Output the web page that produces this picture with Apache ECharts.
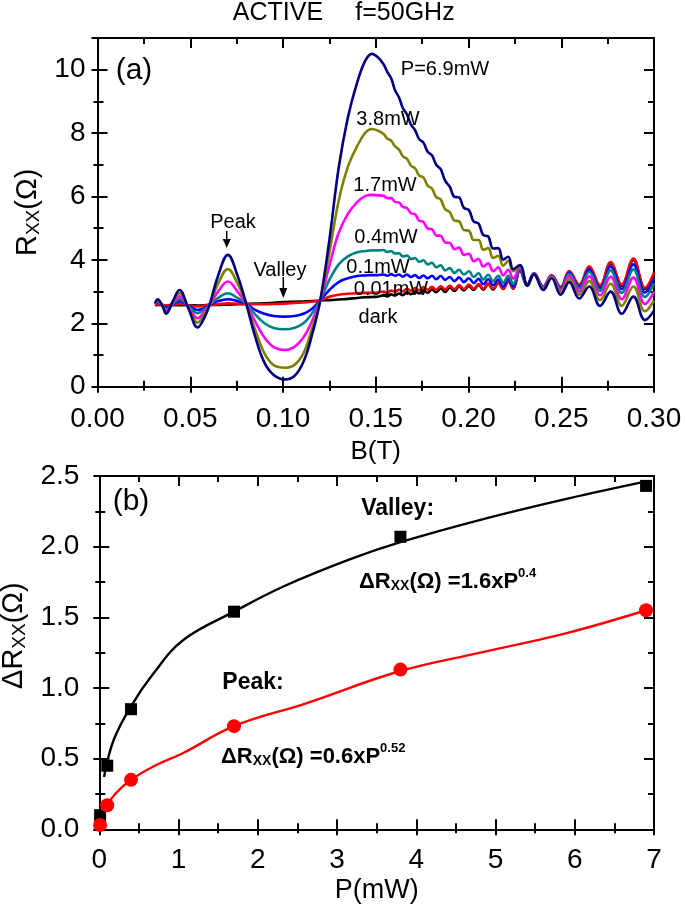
<!DOCTYPE html>
<html><head><meta charset="utf-8">
<script src="https://cdn.jsdelivr.net/npm/echarts@6/dist/echarts.min.js"></script>
<style>html,body{margin:0;padding:0;background:#fff}#c{width:685px;height:909px}</style>
</head><body><div id="c"></div>
<script>
// ---------- panel (a): R_xx vs B ----------
const B = [
0.031, 0.0325, 0.035, 0.037, 0.0405, 0.0442, 0.049, 0.054, 0.0575, 0.0604,
0.065, 0.0703, 0.0755, 0.0802, 0.085, 0.09, 0.095, 0.1009, 0.106, 0.111,
0.1155, 0.12, 0.125, 0.13, 0.135, 0.14, 0.1445, 0.148, 0.151,
0.1542, 0.1562, 0.1583, 0.1604, 0.1625, 0.1646, 0.1668, 0.169, 0.1712, 0.1734,
0.1757, 0.178, 0.1803, 0.1826, 0.185, 0.1874, 0.1899, 0.1924, 0.1949, 0.1975,
0.2002, 0.2028, 0.2054, 0.208, 0.2106, 0.2133, 0.216, 0.2187, 0.2214, 0.2241,
0.2277, 0.2317, 0.2353, 0.2403, 0.2448, 0.2497, 0.2543, 0.2597, 0.2651, 0.2709,
0.2766, 0.2826, 0.2889, 0.2951, 0.30];

const R_69mW = [
2.63, 2.76, 2.55, 2.30, 2.68, 3.05, 2.47, 1.87, 2.16, 2.58,
3.5, 4.16, 3.5, 2.61, 1.58, 0.76, 0.37, 0.23, 0.33, 0.78,
1.6, 2.7, 4.63, 6.9, 8.5, 9.6, 10.3, 10.5, 10.4,
10.17, 9.93, 9.73, 9.35, 9.13, 8.79, 8.59, 8.27, 8.09, 7.81,
7.7, 7.41, 7.3, 7.0, 6.86, 6.5, 6.31, 5.99, 5.97, 5.64,
5.57, 5.21, 5.15, 4.78, 4.74, 4.36, 4.37, 4.01, 4.1, 3.71,
3.84, 3.2, 3.55, 3.05, 3.42, 2.9, 3.3, 2.78, 3.16, 2.55,
3.0, 2.3, 2.84, 2.1, 2.4];

const R_38mW = [
2.61, 2.72, 2.56, 2.35, 2.64, 2.95, 2.5, 2.02, 2.28, 2.58,
3.25, 3.71, 3.25, 2.61, 1.79, 1.05, 0.68, 0.6, 0.68, 1.05,
1.8, 2.7, 4.23, 5.86, 6.94, 7.59, 8.02, 8.13, 8.08,
7.97, 7.83, 7.76, 7.58, 7.48, 7.27, 7.19, 6.97, 6.89, 6.66,
6.6, 6.34, 6.25, 5.98, 5.91, 5.6, 5.51, 5.24, 5.22, 4.94,
4.92, 4.63, 4.63, 4.32, 4.37, 4.06, 4.13, 3.82, 3.97, 3.64,
3.8, 3.2, 3.56, 3.08, 3.45, 2.97, 3.39, 2.9, 3.33, 2.73,
3.25, 2.55, 3.16, 2.38, 2.72];

const R_17mW = [
2.6, 2.69, 2.57, 2.40, 2.62, 2.85, 2.52, 2.16, 2.35, 2.58,
3.0, 3.32, 3.0, 2.62, 2.05, 1.55, 1.25, 1.16, 1.25, 1.55,
2.05, 2.72, 3.82, 4.85, 5.45, 5.82, 6.02, 6.05, 6.04,
6.02, 5.95, 5.95, 5.83, 5.81, 5.67, 5.64, 5.47, 5.44, 5.24,
5.2, 4.99, 4.97, 4.77, 4.76, 4.55, 4.54, 4.34, 4.39, 4.16,
4.19, 3.96, 4.03, 3.79, 3.89, 3.64, 3.77, 3.51, 3.69, 3.41,
3.77, 3.21, 3.57, 3.11, 3.47, 3.03, 3.48, 3.0, 3.48, 2.88,
3.47, 2.76, 3.44, 2.61, 3.0];

const R_04mW = [
2.6, 2.67, 2.58, 2.45, 2.61, 2.76, 2.54, 2.32, 2.43, 2.58,
2.8, 2.95, 2.8, 2.62, 2.28, 2.0, 1.85, 1.81, 1.85, 2.0,
2.3, 2.72, 3.37, 3.86, 4.11, 4.24, 4.28, 4.3, 4.3,
4.31, 4.25, 4.28, 4.2, 4.21, 4.11, 4.14, 4.03, 4.06, 3.94,
3.99, 3.86, 3.91, 3.77, 3.83, 3.67, 3.74, 3.59, 3.69, 3.54,
3.64, 3.46, 3.58, 3.38, 3.53, 3.33, 3.5, 3.28, 3.5, 3.24,
3.74, 3.21, 3.57, 3.14, 3.49, 3.08, 3.55, 3.1, 3.62, 3.02,
3.67, 2.96, 3.7, 2.83, 3.26];

const R_01mW = [
2.6, 2.65, 2.58, 2.5, 2.6, 2.7, 2.56, 2.42, 2.48, 2.58,
2.7, 2.76, 2.7, 2.62, 2.42, 2.3, 2.23, 2.21, 2.23, 2.3,
2.45, 2.72, 3.05, 3.3, 3.42, 3.49, 3.51, 3.52, 3.52,
3.54, 3.5, 3.55, 3.5, 3.54, 3.47, 3.54, 3.46, 3.52, 3.43,
3.51, 3.42, 3.5, 3.39, 3.49, 3.37, 3.46, 3.33, 3.45, 3.3,
3.42, 3.27, 3.4, 3.23, 3.39, 3.2, 3.38, 3.16, 3.4, 3.16,
3.72, 3.22, 3.58, 3.15, 3.5, 3.11, 3.6, 3.15, 3.7, 3.1,
3.79, 3.08, 3.86, 2.97, 3.42];

const R_001mW = [
2.58, 2.6, 2.58, 2.57, 2.58, 2.62, 2.57, 2.53, 2.56, 2.58,
2.6, 2.63, 2.62, 2.61, 2.6, 2.6, 2.61, 2.62, 2.64, 2.66,
2.68, 2.72, 2.84, 2.9, 2.93, 2.95, 2.96, 2.96, 2.97,
3.0, 2.97, 3.03, 3.0, 3.06, 3.01, 3.09, 3.03, 3.11, 3.04,
3.14, 3.06, 3.15, 3.06, 3.17, 3.07, 3.18, 3.07, 3.21, 3.08,
3.22, 3.09, 3.24, 3.09, 3.26, 3.09, 3.29, 3.09, 3.34, 3.11,
3.7, 3.22, 3.58, 3.17, 3.52, 3.15, 3.65, 3.22, 3.8, 3.2,
3.93, 3.22, 4.04, 3.12, 3.6];

const R_dark = [
2.57, 2.58, 2.57, 2.57, 2.57, 2.57, 2.57, 2.56, 2.57, 2.58,
2.58, 2.59, 2.6, 2.61, 2.62, 2.63, 2.65, 2.67, 2.68, 2.69,
2.7, 2.72, 2.73, 2.75, 2.77, 2.8, 2.82, 2.83, 2.84,
2.88, 2.85, 2.91, 2.88, 2.94, 2.89, 2.98, 2.92, 3.0, 2.94,
3.04, 2.96, 3.07, 2.98, 3.1, 2.99, 3.13, 3.02, 3.16, 3.04,
3.18, 3.05, 3.21, 3.06, 3.24, 3.06, 3.27, 3.08, 3.33, 3.09,
3.66, 3.18, 3.54, 3.13, 3.48, 3.11, 3.61, 3.18, 3.76, 3.16,
3.89, 3.18, 4.0, 3.08, 3.56];

const curveLabels = ['dark', '0.01mW', '0.1mW', '0.4mW', '1.7mW', '3.8mW', 'P=6.9mW'];

// ---------- panel (b): dR_xx vs P ----------
const P_mW = [0.01, 0.1, 0.4, 1.7, 3.8, 6.9];
const dR_valley = [0.1, 0.45, 0.85, 1.54, 2.07, 2.43];
const dR_peak = [0.03, 0.17, 0.35, 0.73, 1.13, 1.55];
const fitValleyP = [0.06, 0.18, 0.4, 0.68, 1.06, 1.7, 2.33, 3.16, 3.79, 4.81, 5.91, 6.89];
const fitValleyDR = [0.37, 0.63, 0.87, 1.1, 1.34, 1.54, 1.72, 1.91, 2.03, 2.19, 2.34, 2.46];
const fitPeakP = [0.01, 0.05, 0.1, 0.2, 0.4, 0.7, 1.06, 1.7, 2.6, 3.8, 4.81, 5.91, 6.9];
const fitPeakDR = [0.03, 0.1, 0.17, 0.25, 0.35, 0.45, 0.54, 0.73, 0.89, 1.12, 1.25, 1.39, 1.55];

// ---------- drawing ----------
const FF = '"Liberation Sans", Arial, Helvetica, sans-serif';
const K = '#000';
const pts = (xs, ys) => xs.map((x, i) => [x, ys[i]]);

function mkAxis(o) {
  if (o.hidden) {
    return { type: 'value', position: o.pos, min: o.min, max: o.max, interval: o.interval, show: false };
  }
  return {
    type: 'value', position: o.pos, offset: o.offset || 0,
    min: o.min, max: o.max, interval: o.interval,
    splitLine: { show: false },
    axisLine: { show: true, onZero: false, lineStyle: { color: K, width: 2 } },
    axisTick: { show: !!o.tickLen, inside: !!o.inside, length: o.tickLen || 1, lineStyle: { color: K, width: 2 } },
    minorTick: { show: !!o.minorLen, splitNumber: 2, length: o.minorLen || 1, lineStyle: { color: K, width: 2 } },
    axisLabel: o.label ? Object.assign({ show: true, color: K, fontFamily: FF, fontSize: 28 }, o.label) : { show: false },
    name: o.name || '', nameLocation: 'middle', nameGap: o.nameGap || 0, nameTextStyle: o.nameStyle || {}
  };
}
const A = (o, base) => mkAxis(Object.assign({}, base, o));

const xa = { min: 0, max: 0.3, interval: 0.05 };
const ya = { min: 0, max: 11, interval: 2 };
const ya1 = { min: 0, max: 11, interval: 1 };
const xb = { min: 0, max: 7, interval: 1 };
const yb = { min: 0, max: 2.5, interval: 0.5 };

const topRect = { left: 97.5, top: 38, width: 556.5, height: 348.7 };
const botRect = { left: 99.3, top: 476, width: 554.7, height: 353.3 };

const nameRich = () => ({
  fontFamily: FF, fontSize: 29, color: K,
  rich: {
    a: { fontFamily: FF, fontSize: 29, color: K, lineHeight: 30, verticalAlign: 'top' },
    b: { fontFamily: FF, fontSize: 19, color: K, lineHeight: 19, verticalAlign: 'bottom', padding: [20, 0, 0, 0] }
  }
});
const topNameStyle = nameRich();
const botNameStyle = nameRich();
botNameStyle.padding = [0, 0, 0, 34];

// Main axes carry labels and names; every tick set sits on its own top/right positioned axis
// (shifted with offset onto the bottom/left frame lines), each drawing its own frame line.
function frameSet(rect, xs, ys, ys1, mainX, mainY) {
  const H = rect.height, W = rect.width;
  const own = !!ys1;
  const list = [[mainX, mainY]];
  list.push([A({ pos: 'top', offset: -H, inside: true, tickLen: 6, minorLen: 4 }, xs), A({ pos: 'left', hidden: true }, ys)]);
  list.push([A({ pos: 'top', offset: -H, inside: false, tickLen: 10, minorLen: 6 }, xs), A({ pos: 'left', hidden: true }, ys)]);
  list.push([A({ pos: 'top', inside: true, tickLen: 10, minorLen: 6 }, xs), A({ pos: 'left', hidden: true }, ys)]);
  list.push([A({ pos: 'bottom', hidden: true }, xs), A({ pos: 'right', offset: -W, inside: true, tickLen: 6, minorLen: own ? 0 : 4 }, ys)]);
  list.push([A({ pos: 'bottom', hidden: true }, xs), A({ pos: 'right', offset: -W, inside: false, tickLen: 10, minorLen: own ? 0 : 6 }, ys)]);
  list.push([A({ pos: 'bottom', hidden: true }, xs), A({ pos: 'right', inside: true, tickLen: 10, minorLen: own ? 0 : 6 }, ys)]);
  if (own) {
    list.push([A({ pos: 'bottom', hidden: true }, xs), A({ pos: 'right', offset: -W, inside: true, tickLen: 4 }, ys1)]);
    list.push([A({ pos: 'bottom', hidden: true }, xs), A({ pos: 'right', offset: -W, inside: false, tickLen: 6 }, ys1)]);
    list.push([A({ pos: 'bottom', hidden: true }, xs), A({ pos: 'right', inside: true, tickLen: 6 }, ys1)]);
  }
  return list.map(p => [rect, p[0], p[1]]);
}

const topMainX = A({ pos: 'bottom', label: { margin: 19, formatter: v => v.toFixed(2) },
  name: 'B(T)', nameGap: 52, nameStyle: { fontFamily: FF, fontSize: 26, color: K } }, xa);
const topMainY = A({ pos: 'left', label: { margin: 12, formatter: v => (v % 2 === 0 && v <= 10) ? String(v) : '' },
  name: '{a|R}{b|XX}{a|(Ω)}', nameGap: 44, nameStyle: topNameStyle }, ya);
const botMainX = A({ pos: 'bottom', label: { margin: 17, formatter: v => String(v) },
  name: 'P(mW)', nameGap: 48, nameStyle: { fontFamily: FF, fontSize: 27, color: K } }, xb);
const botMainY = A({ pos: 'left', label: { margin: 20, formatter: v => v.toFixed(1) },
  name: '{a|ΔR}{b|XX}{a|(Ω)}', nameGap: 56, nameStyle: botNameStyle }, yb);

const topSet = frameSet(topRect, xa, ya, ya1, topMainX, topMainY);
const botSet = frameSet(botRect, xb, yb, null, botMainX, botMainY);
const allSets = topSet.concat(botSet);

const grids = [], xAxes = [], yAxes = [];
allSets.forEach(([r, xd, yd], i) => {
  grids.push(Object.assign({ outerBoundsMode: 'none' }, r));
  xd.gridIndex = i; yd.gridIndex = i;
  xAxes.push(xd); yAxes.push(yd);
});
const TOP_MAIN = 0;
const BOT_MAIN = topSet.length;

const topSeriesDefs = [
  [curveLabels[0], R_dark, '#000000'],
  [curveLabels[1], R_001mW, '#FF0000'],
  [curveLabels[2], R_01mW, '#0000FF'],
  [curveLabels[3], R_04mW, '#008080'],
  [curveLabels[4], R_17mW, '#FF00FF'],
  [curveLabels[5], R_38mW, '#808000'],
  [curveLabels[6], R_69mW, '#000080']
];

const series = topSeriesDefs.map(([n, arr, c]) => ({
  name: n, type: 'line', xAxisIndex: TOP_MAIN, yAxisIndex: TOP_MAIN,
  data: pts(B, arr), showSymbol: false, smooth: 0.4,
  lineStyle: { color: c, width: 2.6 }, itemStyle: { color: c }, silent: true
}));

series.push(
  { name: 'fitValley', type: 'line', xAxisIndex: BOT_MAIN, yAxisIndex: BOT_MAIN, data: pts(fitValleyP, fitValleyDR),
    showSymbol: false, smooth: 0.4, lineStyle: { color: '#000', width: 2.4 }, silent: true },
  { name: 'fitPeak', type: 'line', xAxisIndex: BOT_MAIN, yAxisIndex: BOT_MAIN, data: pts(fitPeakP, fitPeakDR),
    showSymbol: false, smooth: 0.4, lineStyle: { color: '#FF0000', width: 2.4 }, silent: true },
  { name: 'Valley', type: 'scatter', xAxisIndex: BOT_MAIN, yAxisIndex: BOT_MAIN, data: pts(P_mW, dR_valley),
    symbol: 'rect', symbolSize: 12, itemStyle: { color: '#000', opacity: 1 }, z: 4, silent: true },
  { name: 'Peak', type: 'scatter', xAxisIndex: BOT_MAIN, yAxisIndex: BOT_MAIN, data: pts(P_mW, dR_peak),
    symbol: 'circle', symbolSize: 14, itemStyle: { color: '#FF0000', opacity: 1 }, z: 5, silent: true }
);

const T = (x, y, text, size, extra) => ({
  type: 'text', x, y, z: 100, silent: true,
  style: Object.assign({ text, fill: K, font: size + 'px ' + FF, align: 'center', verticalAlign: 'middle' }, extra || {})
});

const eqRich = {
  m: { fontFamily: FF, fontSize: 22, fontWeight: 'bold', fill: K, lineHeight: 26, verticalAlign: 'bottom', padding: [12, 0, 0, 0] },
  s: { fontFamily: FF, fontSize: 14, fontWeight: 'bold', fill: K, lineHeight: 14, verticalAlign: 'bottom' },
  p: { fontFamily: FF, fontSize: 13, fontWeight: 'bold', fill: K, lineHeight: 13, verticalAlign: 'top' }
};

const graphic = [
  T(278, 13, 'ACTIVE', 25),
  T(405, 13, 'f=50GHz', 25),
  T(134, 71, '(a)', 30),
  T(131, 502, '(b)', 30),
  T(445, 69, curveLabels[6], 20),
  T(388, 119, curveLabels[5], 20),
  T(385, 185, curveLabels[4], 20),
  T(386, 237, curveLabels[3], 20),
  T(378, 267, curveLabels[2], 20),
  T(391, 289, curveLabels[1], 20),
  T(378, 317, curveLabels[0], 20),
  T(233, 222, 'Peak', 20),
  T(280, 270, 'Valley', 20),
  { type: 'line', z: 100, shape: { x1: 226.7, y1: 231, x2: 226.7, y2: 241 }, style: { stroke: K, lineWidth: 1.5 } },
  { type: 'polygon', z: 100, shape: { points: [[222.7, 239], [230.7, 239], [226.7, 248]] }, style: { fill: K } },
  { type: 'line', z: 100, shape: { x1: 283.3, y1: 277, x2: 283.3, y2: 290 }, style: { stroke: K, lineWidth: 1.5 } },
  { type: 'polygon', z: 100, shape: { points: [[279.3, 288], [287.3, 288], [283.3, 298]] }, style: { fill: K } },
  T(397.6, 509, 'Valley:', 23, { font: 'bold 23px ' + FF }),
  T(253, 683, 'Peak:', 23, { font: 'bold 23px ' + FF }),
  T(359, 580, '{m|ΔR}{s|XX}{m|(Ω) =1.6xP}{p|0.4}', 22, { align: 'left', verticalAlign: 'middle', rich: eqRich }),
  T(221, 755, '{m|ΔR}{s|XX}{m|(Ω) =0.6xP}{p|0.52}', 22, { align: 'left', verticalAlign: 'middle', rich: eqRich })
];

const chart = echarts.init(document.getElementById('c'), null, { renderer: 'canvas' });
chart.setOption({
  animation: false,
  backgroundColor: '#fff',
  grid: grids,
  xAxis: xAxes,
  yAxis: yAxes,
  series,
  graphic
});
</script>
</body></html>
